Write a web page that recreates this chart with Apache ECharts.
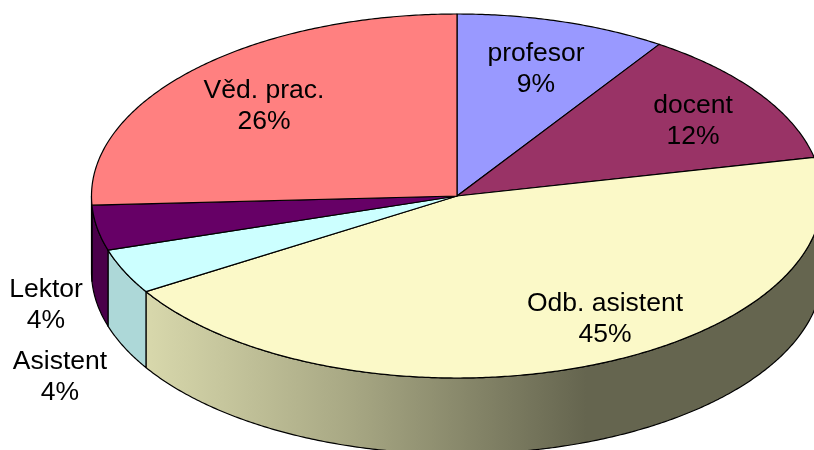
<!DOCTYPE html>
<html>
<head>
<meta charset="utf-8">
<style>html,body{margin:0;padding:0;background:#fff}#c{width:814px;height:450px}</style>
<script src="https://cdn.jsdelivr.net/npm/echarts@6/dist/echarts.min.js"></script>
</head>
<body>
<div id="c"></div>
<script>
// Data
const categories = ['profesor', 'docent', 'Odb. asistent', 'Asistent', 'Lektor', 'Věd. prac.'];
const shares = [9.33, 12.27, 44.6, 4.0, 4.0, 25.8];
const shareLabels = ['9%', '12%', '45%', '4%', '4%', '26%'];

// Style and layout
const topColors = ['#9999ff', '#993366', '#fbf9c8', '#ccffff', '#660066', '#ff8080'];
const wallColors = ['#4c4c80', '#4c1933', null, '#add8d8', '#4a004a', '#4a004a'];
const labelCentres = [[536, 69], [693, 121], [605, 319], [60, 377], [46, 305], [264, 106]];
const pie = { cx: 457, cy: 196, rx: 365.5, ry: 182, depth: 76 };
const FONT = '26.5px "Liberation Sans", Arial, sans-serif';
const LINE = '#000';

const total = shares.reduce((a, b) => a + b, 0);
const startAngles = [];
shares.reduce((acc, v, i) => { startAngles[i] = acc / total * 360; return acc + v; }, 0);
const endAngle = i => startAngles[i] + shares[i] / total * 360;

// Angle measured clockwise from 12 o'clock, on the tilted ellipse
function rim(deg, dy) {
  const r = deg * Math.PI / 180;
  return [pie.cx + pie.rx * Math.sin(r), pie.cy - pie.ry * Math.cos(r) + (dy || 0)];
}
function arc(a0, a1, dy) {
  const n = Math.max(2, Math.ceil(Math.abs(a1 - a0) * 2));
  const pts = [];
  for (let k = 0; k <= n; k++) pts.push(rim(a0 + (a1 - a0) * k / n, dy));
  return pts;
}
const wallGradient = new echarts.graphic.LinearGradient(146, 0, 823, 0, [
  { offset: 0, color: '#d8d8ac' },
  { offset: 0.30, color: '#a8a884' },
  { offset: 0.65, color: '#65654f' },
  { offset: 1, color: '#65654f' }
], true);

const ids = categories.map((_, i) => i);
const chart = echarts.init(document.getElementById('c'), null, { renderer: 'canvas' });
chart.setOption({
  animation: false,
  backgroundColor: '#fff',
  tooltip: { show: false },
  series: [
    {
      type: 'custom', coordinateSystem: 'none', silent: true, z: 1, data: ids,
      renderItem: (p) => {
        const i = p.dataIndex;
        const a0 = Math.max(startAngles[i], 90), a1 = Math.min(endAngle(i), 270);
        if (a0 >= a1) return { type: 'group', children: [] };
        return {
          type: 'polygon',
          shape: { points: arc(a0, a1, 0).concat(arc(a1, a0, pie.depth)) },
          style: { fill: wallColors[i] || wallGradient, stroke: LINE, lineWidth: 1.2, lineJoin: 'round' }
        };
      }
    },
    {
      type: 'custom', coordinateSystem: 'none', silent: true, z: 2, data: ids,
      renderItem: (p) => {
        const i = p.dataIndex;
        return {
          type: 'polygon',
          shape: { points: [[pie.cx, pie.cy]].concat(arc(startAngles[i], endAngle(i), 0)) },
          style: { fill: topColors[i], stroke: LINE, lineWidth: 1.2, lineJoin: 'round' }
        };
      }
    },
    {
      type: 'custom', coordinateSystem: 'none', silent: true, z: 3, data: ids,
      renderItem: (p) => {
        const i = p.dataIndex;
        return {
          type: 'text',
          x: labelCentres[i][0], y: labelCentres[i][1],
          style: {
            text: categories[i] + '\n' + shareLabels[i],
            font: FONT, lineHeight: 31, fill: '#000',
            align: 'center', verticalAlign: 'middle'
          }
        };
      }
    }
  ]
});
</script>
</body>
</html>
